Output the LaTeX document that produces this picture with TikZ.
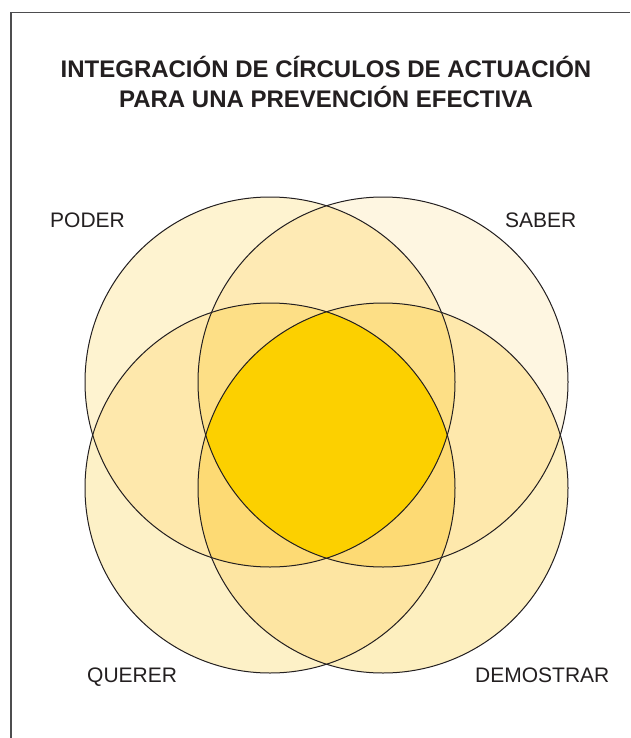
\documentclass[tikz,border=0pt]{standalone}
\usepackage{fontspec}
\setmainfont{Liberation Sans}
\definecolor{ink}{HTML}{231F20}
\definecolor{frame}{HTML}{4D4D4F}
\definecolor{cTLo}{HTML}{FEF3D0}
\definecolor{cTRo}{HTML}{FEF6E1}
\definecolor{cBLo}{HTML}{FDF1C7}
\definecolor{cBRo}{HTML}{FDEFBF}
\definecolor{pTop}{HTML}{FEEAB4}
\definecolor{pSide}{HTML}{FEE8AC}
\definecolor{pBot}{HTML}{FDE5A2}
\definecolor{tUp}{HTML}{FDDF86}
\definecolor{tLo}{HTML}{FDDA74}
\definecolor{core}{HTML}{FCD000}
\tikzset{
  ring/.style={draw=ink, line width=1.0pt},
  lab/.style={text=ink, font=\fontsize{21}{24}\selectfont, inner sep=0pt},
  ttl/.style={text=ink, font=\bfseries\fontsize{24}{29.5}\selectfont, align=center, inner sep=0pt}
}
\newcommand{\cTL}{(270,382) circle[radius=185pt]}
\newcommand{\cTR}{(383,382) circle[radius=185pt]}
\newcommand{\cBL}{(270,488) circle[radius=185pt]}
\newcommand{\cBR}{(383,488) circle[radius=185pt]}
\begin{document}
\begin{tikzpicture}[x=1pt,y=-1pt]
\useasboundingbox (0,0) rectangle (630,738);
\fill[white] (0,0) rectangle (630,738);
\draw[frame, line width=1.4pt] (11,738) -- (11,12.5) -- (630,12.5);
% single circles
\fill[cTLo] \cTL;
\fill[cTRo] \cTR;
\fill[cBLo] \cBL;
\fill[cBRo] \cBR;
% pairs
\begin{scope}\clip \cTL; \fill[pTop] \cTR; \end{scope}
\begin{scope}\clip \cBL; \fill[pBot] \cBR; \end{scope}
\begin{scope}\clip \cTL; \fill[pSide] \cBL; \end{scope}
\begin{scope}\clip \cTR; \fill[pSide] \cBR; \end{scope}
% triples
\begin{scope}\clip \cTL; \clip \cTR; \fill[tUp] \cBL; \end{scope}
\begin{scope}\clip \cTL; \clip \cTR; \fill[tUp] \cBR; \end{scope}
\begin{scope}\clip \cBL; \clip \cBR; \fill[tLo] \cTL; \end{scope}
\begin{scope}\clip \cBL; \clip \cBR; \fill[tLo] \cTR; \end{scope}
% core
\begin{scope}\clip \cTL; \clip \cTR; \clip \cBL; \fill[core] \cBR; \end{scope}
% outlines
\draw[ring] \cTL;
\draw[ring] \cTR;
\draw[ring] \cBL;
\draw[ring] \cBR;
% texts
\node[ttl] (title) at (326,82) {INTEGRACIÓN DE CÍRCULOS DE ACTUACIÓN\\PARA UNA PREVENCIÓN EFECTIVA};
\node[lab, anchor=base west] (poder) at (50,227) {PODER};
\node[lab, anchor=base west] (saber) at (505,227) {SABER};
\node[lab, anchor=base west] (querer) at (87,682) {QUERER};
\node[lab, anchor=base west] (demostrar) at (475,682) {DEMOSTRAR};
\end{tikzpicture}
\end{document}
